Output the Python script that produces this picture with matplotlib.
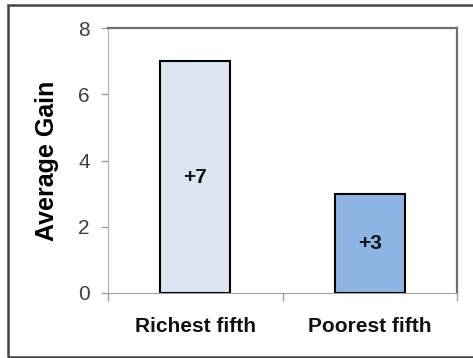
import matplotlib.pyplot as plt
from matplotlib.patches import Rectangle

categories = ["Richest fifth", "Poorest fifth"]
gains = [7, 3]
gain_labels = ["+7", "+3"]
bar_colors = ["#dce6f2", "#8eb4e3"]
y_ticks = [0, 2, 4, 6, 8]

plt.rcParams['font.family'] = ['Liberation Sans', 'DejaVu Sans']

fig = plt.figure(figsize=(4.73, 3.58), dpi=100)
ax = fig.add_axes([108 / 473, 65 / 358, 349 / 473, 265 / 358])

x = list(range(len(categories)))
ax.bar(x, gains, width=0.4, color=bar_colors, edgecolor="black", linewidth=1.5, zorder=3)

# value labels in the middle of each bar
for xi, g, lab in zip(x, gains, gain_labels):
    ax.text(xi, g / 2, lab, ha="center", va="center", fontsize=15, fontweight="bold", color="#111111", zorder=4)

ax.set_xlim(-0.5, len(categories) - 0.5)
ax.set_ylim(0, 8)
ax.set_yticks(y_ticks)
ax.tick_params(axis="y", labelsize=15, labelcolor="#404040", color="#a0a0a0", length=5, width=1, pad=8)

# category labels, ticks sit between the categories
ax.set_xticks(x)
ax.set_xticklabels(categories, fontsize=15, fontweight="bold", color="#111111")
ax.tick_params(axis="x", length=0, pad=17)
ax.set_xticks([-0.5, 0.5, 1.5], minor=True)
ax.tick_params(axis="x", which="minor", length=6, color="#a0a0a0", width=1)

ax.set_ylabel("Average Gain", fontsize=18, fontweight="bold", labelpad=14)

ax.spines["left"].set_color("#b0b0b0")
ax.spines["bottom"].set_color("#a0a0a0")
ax.spines["top"].set_color("#707070")
ax.spines["right"].set_color("#707070")
ax.spines["top"].set_linewidth(1.6)
ax.spines["right"].set_linewidth(1.6)

# outer frame of the figure
fig.patches.append(Rectangle((8 / 473, 1 / 358), 1.0, 352 / 358, transform=fig.transFigure,
                             fill=False, edgecolor="#444444", linewidth=1.8))

fig.savefig("out.png", dpi=100)
